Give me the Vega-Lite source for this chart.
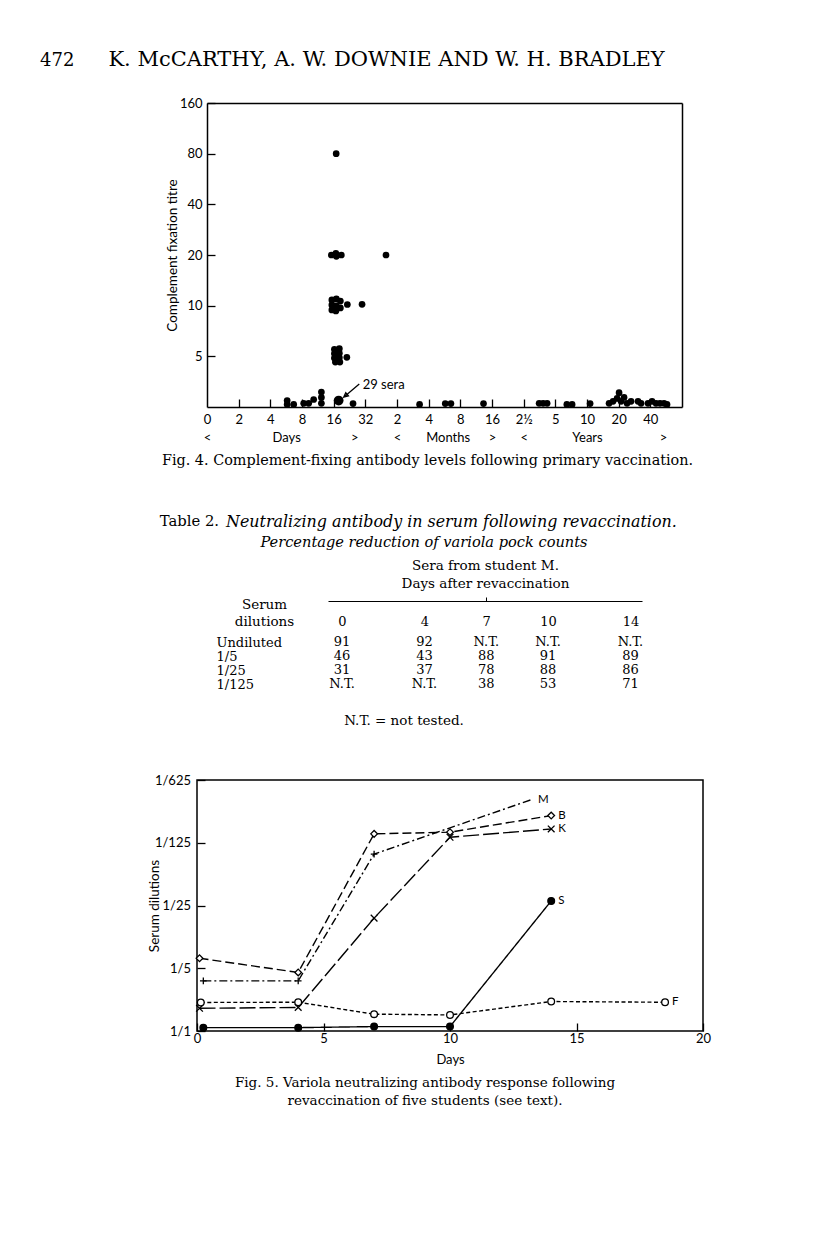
{
  "$schema": "https://vega.github.io/schema/vega-lite/v6.json",
  "background": "white",
  "padding": {"left": 40, "top": 0, "right": 0, "bottom": 0},
  "spacing": 0,
  "bounds": "flush",
  "config": {
    "view": {"stroke": null},
    "font": "Lato",
    "axis": {"grid": false, "domainColor": "black", "tickColor": "black", "labelColor": "black", "titleColor": "black", "labelFont": "Lato", "titleFont": "Lato", "labelFontSize": 13, "titleFontSize": 13.5, "titleFontWeight": "normal"},
    "text": {"color": "black"}
  },
  "vconcat": [
    {
      "width": 379, "height": 102.5,
      "data": {"values": [{"part": "page", "text": "472"}, {"part": "authors", "text": "K. McCARTHY, A. W. DOWNIE AND W. H. BRADLEY"}]},
      "layer": [
        {"transform": [{"filter": "datum.part === 'page'"}], "mark": {"type": "text", "align": "left", "baseline": "alphabetic", "dx": -346.5, "dy": 14.75, "font": "DejaVu Serif", "fontSize": 18}, "encoding": {"text": {"field": "text"}}},
        {"transform": [{"filter": "datum.part === 'authors'"}], "mark": {"type": "text", "align": "center", "baseline": "alphabetic", "dy": 14.75, "font": "DejaVu Serif", "fontSize": 21}, "encoding": {"text": {"field": "text"}}}
      ]
    },
    {
      "width": 485, "height": 304,
      "data": {"values": [
        {"days": 16.9, "titre": 80, "sera": 1},
        {"days": 15.21, "titre": 20, "sera": 1}, {"days": 16.79, "titre": 20.47, "sera": 1}, {"days": 16.97, "titre": 19.65, "sera": 1}, {"days": 18.93, "titre": 20, "sera": 1}, {"days": 50.3, "titre": 20, "sera": 1},
        {"days": 15.38, "titre": 10.81, "sera": 1}, {"days": 16.97, "titre": 10.96, "sera": 1}, {"days": 18.53, "titre": 10.66, "sera": 1}, {"days": 15.38, "titre": 10.1, "sera": 1}, {"days": 16.97, "titre": 9.96, "sera": 1}, {"days": 15.38, "titre": 9.43, "sera": 1}, {"days": 16.79, "titre": 9.3, "sera": 1}, {"days": 18.53, "titre": 9.69, "sera": 1}, {"days": 21.59, "titre": 10.16, "sera": 1}, {"days": 29.78, "titre": 10.19, "sera": 1},
        {"days": 16.25, "titre": 5.51, "sera": 1}, {"days": 18.12, "titre": 5.55, "sera": 1}, {"days": 16.25, "titre": 5.19, "sera": 1}, {"days": 18.12, "titre": 5.22, "sera": 1}, {"days": 16.25, "titre": 4.88, "sera": 1}, {"days": 18.12, "titre": 4.91, "sera": 1}, {"days": 16.61, "titre": 4.62, "sera": 1}, {"days": 18.33, "titre": 4.62, "sera": 1}, {"days": 21.35, "titre": 4.93, "sera": 1},
        {"days": 5.78, "titre": 2.73, "sera": 1}, {"days": 5.78, "titre": 2.59, "sera": 1}, {"days": 6.67, "titre": 2.59, "sera": 1}, {"days": 8.3, "titre": 2.63, "sera": 1}, {"days": 9.26, "titre": 2.63, "sera": 1}, {"days": 10.33, "titre": 2.77, "sera": 1}, {"days": 12.23, "titre": 2.63, "sera": 1}, {"days": 12.23, "titre": 2.85, "sera": 1}, {"days": 12.23, "titre": 3.07, "sera": 1},
        {"days": 17.85, "titre": 2.73, "sera": 29, "note": "29 sera"},
        {"days": 24.45, "titre": 2.62, "sera": 1}, {"days": 104.9, "titre": 2.59, "sera": 1}, {"days": 184, "titre": 2.62, "sera": 1}, {"days": 208.4, "titre": 2.62, "sera": 1}, {"days": 425.2, "titre": 2.62, "sera": 1},
        {"days": 1437, "titre": 2.63, "sera": 1}, {"days": 1568, "titre": 2.63, "sera": 1}, {"days": 1711, "titre": 2.63, "sera": 1}, {"days": 2634, "titre": 2.59, "sera": 1}, {"days": 2957, "titre": 2.59, "sera": 1}, {"days": 4384, "titre": 2.62, "sera": 1},
        {"days": 6640, "titre": 2.63, "sera": 1}, {"days": 7245, "titre": 2.7, "sera": 1}, {"days": 7912, "titre": 2.81, "sera": 1}, {"days": 8264, "titre": 3.04, "sera": 1}, {"days": 8637, "titre": 2.7, "sera": 1}, {"days": 9219, "titre": 2.85, "sera": 1}, {"days": 9842, "titre": 2.63, "sera": 1}, {"days": 10740, "titre": 2.7, "sera": 1},
        {"days": 12520, "titre": 2.7, "sera": 1}, {"days": 13370, "titre": 2.63, "sera": 1}, {"days": 15580, "titre": 2.63, "sera": 1}, {"days": 17010, "titre": 2.7, "sera": 1}, {"days": 18560, "titre": 2.63, "sera": 1}, {"days": 20250, "titre": 2.63, "sera": 1}, {"days": 22110, "titre": 2.63, "sera": 1}, {"days": 23600, "titre": 2.59, "sera": 1}
      ]},
      "resolve": {"axis": {"x": "independent", "y": "independent"}},
      "layer": [
        {"mark": {"type": "circle", "color": "black", "opacity": 1},
         "encoding": {
           "x": {"field": "days", "type": "quantitative",
             "scale": {"type": "log", "base": 2, "domain": [1, 32768], "range": [10, 485], "nice": false},
             "axis": {"orient": "bottom", "title": null, "domain": true, "domainWidth": 1.5,
               "values": [1, 2, 4, 5.66, 8, 16, 25.1, 32, 64, 128, 194, 256, 512, 1024, 2048, 4096, 8192, 16384, 21600],
               "labelExpr": "datum.value < 1.5 ? ['0','<'] : datum.value < 3 ? ['2',''] : datum.value < 4.5 ? ['4',''] : datum.value < 6 ? ['','Days'] : datum.value < 12 ? ['8',''] : datum.value < 20 ? ['16',''] : datum.value < 28 ? ['','>'] : datum.value < 48 ? ['32',''] : datum.value < 96 ? ['2','<'] : datum.value < 160 ? ['4',''] : datum.value < 220 ? ['','Months'] : datum.value < 384 ? ['8',''] : datum.value < 768 ? ['16','>'] : datum.value < 1536 ? ['2½','<'] : datum.value < 3072 ? ['5',''] : datum.value < 6144 ? ['10','Years'] : datum.value < 12288 ? ['20',''] : datum.value < 19000 ? ['40',''] : ['','>']",
               "tickSize": -8, "tickWidth": 1.3,
               "tickOpacity": {"condition": {"test": "indexof([2,4,8,16,32,64,128,256,512,1024,2048,4096,8192,16384], datum.value) >= 0", "value": 1}, "value": 0},
               "labelOverlap": false, "labelFlush": false, "labelBound": false,
               "labelPadding": 14, "labelBaseline": "top", "labelLineHeight": 18.3, "labelFontSize": 13}},
           "y": {"field": "titre", "type": "quantitative",
             "scale": {"type": "log", "base": 2, "domain": [2.5, 160], "nice": false},
             "axis": {"orient": "left", "offset": -10, "title": "Complement fixation titre", "domain": true, "domainWidth": 1.5, "values": [5, 10, 20, 40, 80, 160], "format": "d",
               "tickSize": -8, "tickWidth": 1.3, "labelPadding": 13, "labelOverlap": false, "labelFlush": false, "titlePadding": 0}},
           "size": {"field": "sera", "type": "quantitative", "scale": {"domain": [1, 29], "range": [45, 95]}, "legend": null}}},
        {"transform": [{"filter": "datum.sera > 1"}],
         "mark": {"type": "point", "shape": "M1.03,-0.83L0.25,-0.17M0.25,-0.17L0.49,-0.236L0.354,-0.397Z", "size": 1600, "filled": false, "stroke": "black", "strokeWidth": 1.3, "opacity": 1},
         "encoding": {
           "x": {"field": "days", "type": "quantitative", "axis": {"orient": "top", "labels": false, "ticks": false, "domain": true, "domainWidth": 1.5, "title": null}},
           "y": {"field": "titre", "type": "quantitative", "axis": {"orient": "right", "labels": false, "ticks": false, "domain": true, "domainWidth": 1.5, "title": null}}}},
        {"transform": [{"filter": "datum.sera > 1"}],
         "mark": {"type": "text", "align": "left", "baseline": "middle", "dx": 24, "dy": -16, "font": "Lato", "fontSize": 13},
         "encoding": {
           "x": {"field": "days", "type": "quantitative", "axis": null},
           "y": {"field": "titre", "type": "quantitative", "axis": null},
           "text": {"field": "note"}}}
      ]
    },
    {
      "width": 456, "height": 220.5,
      "data": {"values": [
        {"part": "caption", "text": "Fig. 4. Complement-fixing antibody levels following primary vaccination."},
        {"part": "label", "text": "Table 2."},
        {"part": "title1", "text": "Neutralizing antibody in serum following revaccination."},
        {"part": "title2", "text": "Percentage reduction of variola pock counts"}
      ]},
      "layer": [
        {"transform": [{"filter": "datum.part === 'caption'"}], "mark": {"type": "text", "align": "center", "baseline": "middle", "dx": 2.5, "dy": -56.75, "font": "DejaVu Serif", "fontSize": 14.4}, "encoding": {"text": {"field": "text"}}},
        {"transform": [{"filter": "datum.part === 'label'"}], "mark": {"type": "text", "align": "right", "baseline": "middle", "dx": -206, "dy": 4.25, "font": "DejaVu Serif", "fontSize": 14.8}, "encoding": {"text": {"field": "text"}}},
        {"transform": [{"filter": "datum.part === 'title1'"}], "mark": {"type": "text", "align": "left", "baseline": "middle", "dx": -199, "dy": 4.25, "font": "DejaVu Serif", "fontStyle": "italic", "fontSize": 15.9}, "encoding": {"text": {"field": "text"}}},
        {"transform": [{"filter": "datum.part === 'title2'"}], "mark": {"type": "text", "align": "center", "baseline": "middle", "dx": -1, "dy": 25.25, "font": "DejaVu Serif", "fontStyle": "italic", "fontSize": 14.6}, "encoding": {"text": {"field": "text"}}}
      ]
    },
    {
      "width": 445, "height": 70,
      "data": {"values": [
        {"dilution": "Undiluted", "day": 0, "value": "91"}, {"dilution": "Undiluted", "day": 4, "value": "92"}, {"dilution": "Undiluted", "day": 7, "value": "N.T."}, {"dilution": "Undiluted", "day": 10, "value": "N.T."}, {"dilution": "Undiluted", "day": 14, "value": "N.T."},
        {"dilution": "1/5", "day": 0, "value": "46"}, {"dilution": "1/5", "day": 4, "value": "43"}, {"dilution": "1/5", "day": 7, "value": "88"}, {"dilution": "1/5", "day": 10, "value": "91"}, {"dilution": "1/5", "day": 14, "value": "89"},
        {"dilution": "1/25", "day": 0, "value": "31"}, {"dilution": "1/25", "day": 4, "value": "37"}, {"dilution": "1/25", "day": 7, "value": "78"}, {"dilution": "1/25", "day": 10, "value": "88"}, {"dilution": "1/25", "day": 14, "value": "86"},
        {"dilution": "1/125", "day": 0, "value": "N.T."}, {"dilution": "1/125", "day": 4, "value": "N.T."}, {"dilution": "1/125", "day": 7, "value": "38"}, {"dilution": "1/125", "day": 10, "value": "53"}, {"dilution": "1/125", "day": 14, "value": "71"}
      ]},
      "mark": {"type": "text", "font": "DejaVu Serif", "fontSize": 13, "baseline": "middle"},
      "encoding": {
        "x": {"field": "day", "type": "quantitative", "scale": {"domain": [-0.68, 14.56], "range": [131, 445], "nice": false, "zero": false},
          "axis": {"orient": "top", "offset": 27, "values": [0, 4, 7, 10, 14], "format": "d", "domain": true, "domainWidth": 1, "ticks": true, "tickSize": 4, "tickWidth": 1,
            "tickOpacity": {"condition": {"test": "datum.value === 7", "value": 1}, "value": 0},
            "labelPadding": -24, "labelBaseline": "middle", "labelAngle": 0, "labelFlush": false, "labelOverlap": false, "labelFont": "DejaVu Serif", "labelFontSize": 13,
            "title": ["Sera from student M.", "Days after revaccination"], "titleFont": "DejaVu Serif", "titleFontSize": 13.5, "titleLineHeight": 18, "titlePadding": 6}},
        "y": {"field": "dilution", "type": "ordinal", "sort": ["Undiluted", "1/5", "1/25", "1/125"], "scale": {"type": "point", "padding": 1},
          "axis": {"orient": "left", "domain": false, "ticks": false, "labelAlign": "left", "labelPadding": -19, "labelBaseline": "middle", "labelFont": "DejaVu Serif", "labelFontSize": 13,
            "title": ["Serum", "dilutions"], "titleAngle": 0, "titleAlign": "center", "titleBaseline": "middle", "titleX": 67, "titleY": -24, "titleFont": "DejaVu Serif", "titleFontSize": 13.5, "titleLineHeight": 17}},
        "text": {"field": "value"}
      }
    },
    {
      "width": 414, "height": 81.5,
      "data": {"values": [{"text": "N.T. = not tested."}]},
      "mark": {"type": "text", "align": "center", "baseline": "middle", "dy": -17.75, "font": "DejaVu Serif", "fontSize": 13.5},
      "encoding": {"text": {"field": "text"}}
    },
    {
      "width": 506, "height": 251,
      "view": {"stroke": "black", "strokeWidth": 1.5},
      "data": {"values": [
        {"student": "B", "day": 0.1, "reciprocal": 6.46}, {"student": "B", "day": 4, "reciprocal": 4.49}, {"student": "B", "day": 7, "reciprocal": 157}, {"student": "B", "day": 10, "reciprocal": 164}, {"student": "B", "day": 14, "reciprocal": 251},
        {"student": "K", "day": 0.1, "reciprocal": 1.79}, {"student": "K", "day": 4, "reciprocal": 1.83}, {"student": "K", "day": 7, "reciprocal": 18.1}, {"student": "K", "day": 10, "reciprocal": 144}, {"student": "K", "day": 14, "reciprocal": 178},
        {"student": "M", "day": 0.25, "reciprocal": 3.62}, {"student": "M", "day": 4, "reciprocal": 3.62}, {"student": "M", "day": 7, "reciprocal": 93.4}, {"student": "M", "day": 13.2, "reciprocal": 376},
        {"student": "F", "day": 0.15, "reciprocal": 2.08}, {"student": "F", "day": 4, "reciprocal": 2.09}, {"student": "F", "day": 7, "reciprocal": 1.54}, {"student": "F", "day": 10, "reciprocal": 1.51}, {"student": "F", "day": 14, "reciprocal": 2.13}, {"student": "F", "day": 18.5, "reciprocal": 2.09},
        {"student": "S", "day": 0.25, "reciprocal": 1.09}, {"student": "S", "day": 4, "reciprocal": 1.09}, {"student": "S", "day": 7, "reciprocal": 1.12}, {"student": "S", "day": 10, "reciprocal": 1.12}, {"student": "S", "day": 14, "reciprocal": 28.1}
      ]},
      "encoding": {
        "x": {"field": "day", "type": "quantitative", "scale": {"domain": [0, 20], "nice": false, "zero": false},
          "axis": {"values": [0, 5, 10, 15, 20], "format": "d", "tickSize": -8, "tickWidth": 1.3, "labelPadding": 9, "labelFlush": false, "labelOverlap": false, "domain": false, "title": "Days", "titleFontSize": 13, "titlePadding": 8.5}},
        "y": {"field": "reciprocal", "type": "quantitative", "scale": {"type": "log", "base": 5, "domain": [1, 625], "nice": false},
          "axis": {"values": [1, 5, 25, 125, 625], "labelExpr": "'1/' + datum.value", "tickSize": -8, "tickWidth": 1.3, "labelPadding": 14.5, "labelFlush": false, "labelOverlap": false, "domain": false, "title": "Serum dilutions", "titlePadding": -7.5}}
      },
      "layer": [
        {"mark": {"type": "line", "color": "black", "strokeWidth": 1.4},
         "encoding": {"detail": {"field": "student"},
           "strokeDash": {"field": "student", "type": "nominal", "scale": {"domain": ["B", "F", "K", "M", "S"], "range": [[9, 4], [4, 2.5], [16, 4], [8, 3, 2, 3], [1, 0]]}, "legend": null}}},
        {"transform": [{"filter": "datum.student !== 'M' || datum.day < 13"}],
         "mark": {"type": "point", "filled": true, "stroke": "black", "strokeWidth": 1.3, "opacity": 1},
         "encoding": {
           "shape": {"field": "student", "type": "nominal", "scale": {"domain": ["B", "F", "K", "M", "S"], "range": ["diamond", "circle", "M-1,-1L1,1M-1,1L1,-1", "M-1,0L1,0M0,-1L0,1", "circle"]}, "legend": null},
           "fill": {"field": "student", "type": "nominal", "scale": {"domain": ["B", "F", "K", "M", "S"], "range": ["white", "white", "transparent", "transparent", "black"]}, "legend": null},
           "size": {"field": "student", "type": "nominal", "scale": {"domain": ["B", "F", "K", "M", "S"], "range": [45, 45, 30, 40, 22]}, "legend": null}}},
        {"transform": [{"joinaggregate": [{"op": "max", "field": "day", "as": "lastday"}], "groupby": ["student"]}, {"filter": "datum.day === datum.lastday"}],
         "mark": {"type": "text", "align": "left", "baseline": "middle", "dx": 7, "font": "Lato", "fontSize": 11.5},
         "encoding": {"text": {"field": "student"}}}
      ]
    },
    {
      "width": 456, "height": 121,
      "data": {"values": [{"text": "Fig. 5. Variola neutralizing antibody response following\nrevaccination of five students (see text)."}]},
      "mark": {"type": "text", "align": "center", "baseline": "middle", "dy": -9, "lineBreak": "\n", "lineHeight": 18, "font": "DejaVu Serif", "fontSize": 13.5},
      "encoding": {"text": {"field": "text"}}
    }
  ]
}
